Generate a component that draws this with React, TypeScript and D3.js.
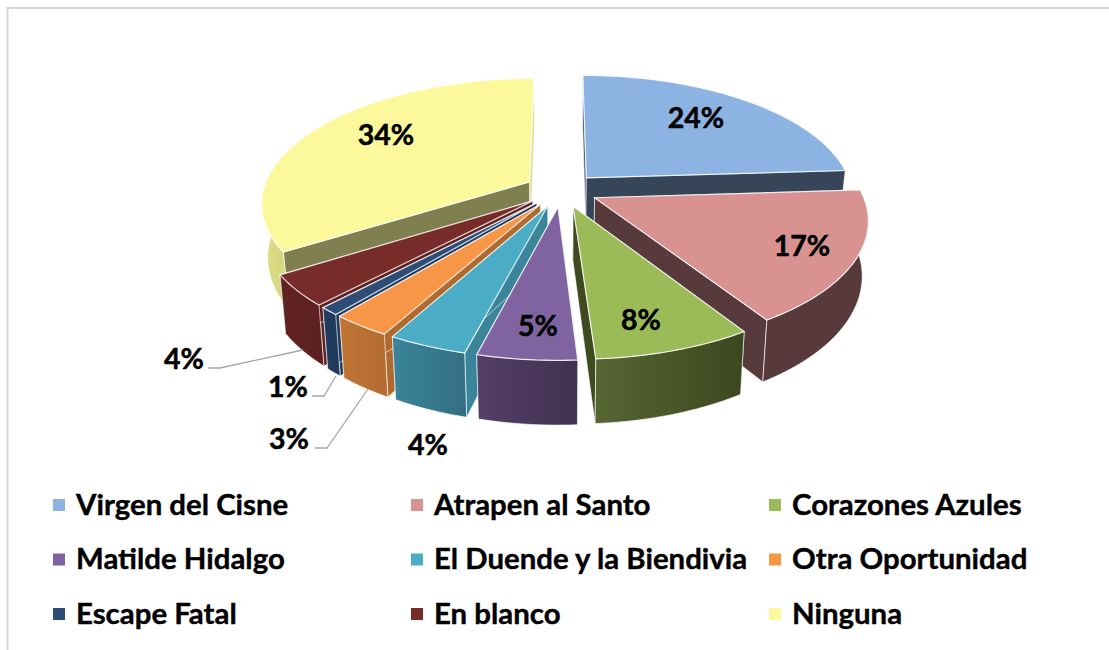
import React from "react";
import * as d3 from "d3";

const categories = ["Virgen del Cisne","Atrapen al Santo","Corazones Azules","Matilde Hidalgo","El Duende y la Biendivia","Otra Oportunidad","Escape Fatal","En blanco","Ninguna"];
const values = [24,17,8,5,4,3,1,4,34];
const pctLabels = ["24%","17%","8%","5%","4%","3%","1%","4%","34%"];
const topColors = ["#8DB3E2","#D89290","#9BBB59","#8064A2","#4BACC6","#F79646","#2C4D75","#772C2A","#FBF99B"];
const radialStart = ["#46586F","#593A3C","#3F4A20","#4A3A5E","#3A859A","#B06A2F","#1F3A5C","#5C2120","#807F4F"];
const radialEnd = ["#374559","#593A3C","#3F4A20","#4A3A5E","#3A859A","#B06A2F","#1F3A5C","#5C2120","#DEDD88"];
const wallLeft = ["#374559","#593A3C","#566633","#543F66","#3B8499","#BF7435","#213D60","#622322","#DEDD88"];
const wallRight = ["#374559","#593A3C","#3C471E","#423152","#336F82","#B46C30","#1F3A5C","#5A201F","#D6D57F"];
const paintOrder = [8,0,7,6,5,4,1,3,2];

const W = 1109, H = 650;
const cx = 561.5, cy = 190, A = 266.5, B = 122.5, persp = 0.16, explode = 0.138, depth = 53, bottomShrink = 0.98;

const valueLabels = [{i:0,x:696,y:117},{i:1,x:802,y:245},{i:2,x:641,y:319},{i:3,x:538,y:325},{i:8,x:386,y:134},
  {i:4,x:428,y:444},{i:5,x:289,y:438},{i:6,x:288,y:386},{i:7,x:184,y:358}];
const leaders = [[[208,368],[220,368],[303,350]],[[312,396],[324,396],[336,376]],[[315,448],[327,448],[368,389]]];
const legendSwatchX = [53,411,769], legendTextX = [76,434,792], legendY = [505,559.5,614];

function project(x: number, y: number, bottom: boolean): [number, number] {
  const w = 1 / (1 - persp * y);
  const k = bottom ? bottomShrink : 1;
  return [cx + A * x * w * k, cy + B * y * w + (bottom ? depth * w : 0)];
}

export default function App() {
  const arcs = d3.pie<number>().sort(null).startAngle(0).endAngle(2 * Math.PI)(values);
  const line = d3.line().curve(d3.curveLinearClosed);
  const built = arcs.map((a, i) => {
    const mid = (a.startAngle + a.endAngle) / 2;
    const ox = explode * Math.sin(mid), oy = -explode * Math.cos(mid);
    const n = Math.max(4, Math.ceil((a.endAngle - a.startAngle) * 40));
    const angles = d3.range(n + 1).map(t => a.startAngle + (a.endAngle - a.startAngle) * t / n);
    const pt = (ang: number, r: number, bottom: boolean) => project(ox + r * Math.sin(ang), oy - r * Math.cos(ang), bottom);
    const topArc = angles.map(t => pt(t, 1, false));
    const botArc = angles.map(t => pt(t, 1, true));
    const front = angles.filter(t => -Math.cos(t) > 0);
    const apexT = pt(0, 0, false), apexB = pt(0, 0, true);
    return {
      i,
      top: line([apexT, ...topArc])!,
      arcWall: front.length > 1 ? line([...front.map(t => pt(t, 1, false)), ...front.slice().reverse().map(t => pt(t, 1, true))])! : "",
      wallA: line([apexT, topArc[0], botArc[0], apexB])!,
      wallB: line([apexT, topArc[n], botArc[n], apexB])!,
    };
  });
  const edge = "rgba(255,255,255,0.8)";
  return (
    <svg width={W} height={H} style={{ position: "absolute", left: 0, top: 0 }} fontFamily="Lato" fontWeight={700}>
      <rect width={W} height={H} fill="#fff" />
      <path d="M7.5 650V8H1109" fill="none" stroke="#D9D9D9" strokeWidth={2} />
      <defs>
        {built.map(b => (
          <linearGradient key={b.i} id={`w${b.i}`} x1="0" x2="1" y1="0" y2="0">
            <stop offset="0" stopColor={wallLeft[b.i]} />
            <stop offset="1" stopColor={wallRight[b.i]} />
          </linearGradient>
        ))}
      </defs>
      {paintOrder.map(i => {
        const b = built[i];
        return (
          <g key={i}>
            <path d={b.wallA} fill={radialStart[i]} stroke={edge} strokeWidth={0.8} />
            <path d={b.wallB} fill={radialEnd[i]} stroke={edge} strokeWidth={0.8} />
            {b.arcWall && <path d={b.arcWall} fill={`url(#w${i})`} stroke={edge} strokeWidth={0.8} />}
            <path d={b.top} fill={topColors[i]} stroke={edge} strokeWidth={1.2} />
          </g>
        );
      })}
      {leaders.map((l, i) => (
        <path key={i} d={d3.line()(l as [number, number][])!} fill="none" stroke="#A6A6A6" strokeWidth={1.3} />
      ))}
      {valueLabels.map(l => (
        <text key={l.i} x={l.x} y={l.y} textAnchor="middle" dominantBaseline="central" fontSize={28.5} fill="#000" stroke="#000" strokeWidth={0.5}>{pctLabels[l.i]}</text>
      ))}
      {categories.map((c, i) => {
        const col = i % 3, row = Math.floor(i / 3);
        return (
          <g key={c}>
            <rect x={legendSwatchX[col]} y={legendY[row] - 6} width={12} height={12} fill={topColors[i]} />
            <text x={legendTextX[col]} y={legendY[row] - 2} dominantBaseline="central" fontSize={29.4} fill="#000" stroke="#000" strokeWidth={0.4}>{c}</text>
          </g>
        );
      })}
    </svg>
  );
}
